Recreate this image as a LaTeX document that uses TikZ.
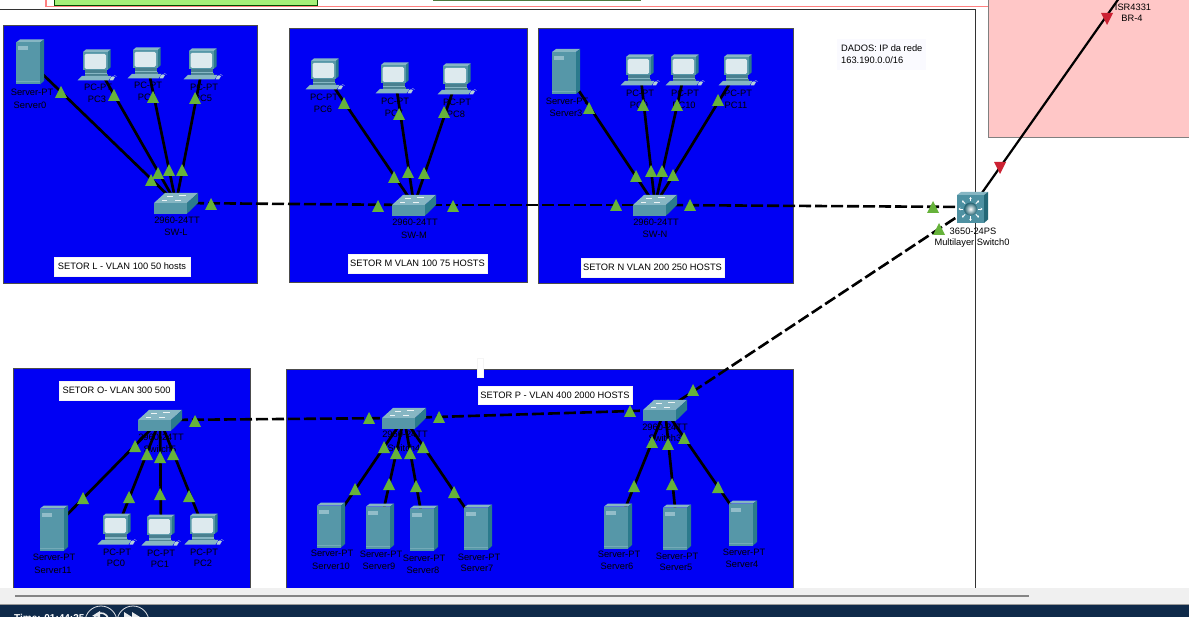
\documentclass[tikz,border=0pt]{standalone}
\usepackage{fontspec}
\setmainfont{Liberation Sans}
\usetikzlibrary{arrows.meta}
\definecolor{panelblue}{HTML}{0000F4}
\definecolor{tri}{HTML}{66B23A}
\definecolor{trired}{HTML}{CC2233}
\definecolor{tfront}{HTML}{5697A8}
\definecolor{ttop}{HTML}{86B6C3}
\definecolor{tside}{HTML}{2B7A8C}
\definecolor{navy}{HTML}{0F2A4A}
\definecolor{lime}{HTML}{A4F078}
\definecolor{darkgreen}{HTML}{4F7A3F}
\tikzset{
  panel/.style={fill=panelblue,draw=black!70,line width=0.7pt},
  devpt/.style={inner sep=0pt,minimum size=1pt},
  lnk/.style={draw=black,line width=2.7pt},
  dlnk/.style={draw=black,line width=2.6pt,dash pattern=on 12pt off 4pt},
  uplink/.style={draw=black,line width=2.2pt},
  devtext/.style={font=\fontsize{9.3}{10}\selectfont,text=black,inner sep=0pt,anchor=center},
  notebox/.style={fill=white,draw=black!4,line width=0.5pt,inner sep=0pt,font=\fontsize{9.3}{10}\selectfont,text=black},
  pics/gt/.style={code={\fill[tri] (-6,6) -- (6,6) -- (0,-6) -- cycle;}},
  pics/rt/.style={code={\fill[trired] (-6,-6) -- (6,-6) -- (0,6) -- cycle;}},
  pics/server/.style={code={
    \fill[ttop] (-14,-19.5) -- (-10,-22.5) -- (14,-22.5) -- (10,-19.5) -- cycle;
    \fill[tside] (10,-19.5) -- (14,-22.5) -- (14,19) -- (10,22.5) -- cycle;
    \fill[tfront] (-14,-19.5) rectangle (10,22.5);
    \fill[ttop!90!white] (-12,-15.5) rectangle (-2,-11.5);
    \fill[ttop!60!tfront] (-14,19.5) rectangle (10,20.3);
  }},
  pics/pc/.style={code={
    \fill[tside] (10.5,-13) -- (13.5,-15.5) -- (13.5,2.5) -- (10.5,5) -- cycle;
    \fill[ttop] (-14,-13) -- (-11,-15.5) -- (13.5,-15.5) -- (10.5,-13) -- cycle;
    \fill[tfront] (-14,-13) rectangle (10.5,5);
    \fill[white!80!tfront,rounded corners=1.5pt] (-12.5,-11) rectangle (9,4);
    \fill[tfront!85!black] (-12,5) rectangle (10,8);
    \fill[ttop] (-12,8) rectangle (10,9.5);
    \fill[tfront!85!black] (-12,9.5) rectangle (11,10.8);
    \fill[ttop] (-15,10.8) -- (14.5,10.8) -- (11.5,15.5) -- (-19.5,15.5) -- cycle;
    \fill[white!55!tfront] (14,12) -- (18,12) -- (16,15.5) -- (12.5,15.5) -- cycle;
    \draw[white!60!tfront,line width=0.4pt] (15,12) .. controls (17,10) and (19,10.5) .. (19.5,11.5);
  }},
  pics/sw/.style={code={
    \fill[ttop] (-22,0) -- (-11,-10) -- (22,-10) -- (11,0) -- cycle;
    \fill[tside] (11,0) -- (22,-10) -- (22,0) -- (11,10.7) -- cycle;
    \fill[tfront] (-22,0) rectangle (11,10.7);
    \draw[white!85!ttop,line width=0.7pt] (-9,-7) -- (-3,-7) (3,-7.5) -- (10,-7.5) (-14,-2.5) -- (-9,-2.5) (-1,-2.5) -- (5,-2.5);
  }},
  pics/mls/.style={code={
    \fill[ttop] (-15,-12) -- (-11,-15) -- (16,-15) -- (12,-12) -- cycle;
    \fill[tside!85!black] (12,-12) -- (16,-15) -- (16,12.5) -- (12,16) -- cycle;
    \fill[tfront!80!tside] (-15,-12) rectangle (12,16);
    \foreach \a in {0,45,...,315}{
      \draw[white,line width=0.8pt,-{Stealth[length=2pt,width=2.5pt]}] (-1.5,2) ++(\a:7.5) -- ++(\a:4.5);
    }
    \shade[inner color=white,outer color=tside!80!black] (-1.5,2) circle (6.5);
  }},
}
\newcommand{\twolab}[7]{%
  \node[devtext] (#1a) at (#2,#3) {#4};%
  \node[devtext] (#1b) at (#5,#6) {#7};%
}
\begin{document}
\begin{tikzpicture}[x=1pt,y=-1pt]
\useasboundingbox (0,0) rectangle (1189,617);
\begin{scope}
\clip (0,0) rectangle (1189,617);
\fill[white] (0,0) rectangle (1189,617);
% upper window remains
\draw[draw=red!50,line width=1.3pt] (46,-2) -- (46,6.5) -- (989,6.5);
\fill[lime,draw=black!70!green,line width=0.8pt] (54,-3) rectangle (317,5.5);
\fill[lime,draw=darkgreen,line width=1pt] (433,-3) rectangle (640,0.8);
\draw[black!80,line width=1pt] (0,10) -- (975.5,10) -- (975.5,590);
\fill[red!22,draw=black!50,line width=0.8pt] (988,-3) rectangle (1192,137.5);
% panels
\node[panel,minimum width=254pt,minimum height=258pt,inner sep=0pt,anchor=north west] (panelL) at (3,25) {};
\node[panel,minimum width=238pt,minimum height=254pt,inner sep=0pt,anchor=north west] (panelM) at (289,28) {};
\node[panel,minimum width=255pt,minimum height=255pt,inner sep=0pt,anchor=north west] (panelN) at (538,28) {};
\node[panel,minimum width=237pt,minimum height=222pt,inner sep=0pt,anchor=north west] (panelO) at (12.5,368) {};
\node[panel,minimum width=507pt,minimum height=221pt,inner sep=0pt,anchor=north west] (panelP) at (286,369) {};
% device anchors
\foreach \n/\x/\y in {
  srvA/30/62, pcC/97/65, pcD/147/63, pcE/203/64, swL/176/203,
  pcF/325/74, pcG/395/78, pcH/457/79, swM/414/205,
  srvD/566/71.5, pcI/640/70, pcJ/685/70, pcK/738/70, swN/655/205,
  mls/972/207, brD/1122/-6,
  swE/160/420, srvL/54/528, pcA/117/529, pcB/161/530, pcCc/204/529,
  swF/404/418, srvK/331/525, srvJ/380/526, srvI/424/528, srvH/478/527,
  swG/665/410, srvG/618/526, srvF/677/527, srvE/743/523}
  {\node[devpt] (\n) at (\x,\y) {};}
% connectors
\foreach \a/\b in {srvA/swL,pcC/swL,pcD/swL,pcE/swL,pcF/swM,pcG/swM,pcH/swM,
  srvD/swN,pcI/swN,pcJ/swN,pcK/swN,srvL/swE,pcA/swE,pcB/swE,pcCc/swE,
  srvK/swF,srvJ/swF,srvI/swF,srvH/swF,srvG/swG,srvF/swG,srvE/swG}
  {\draw[lnk] (\a.center) -- (\b.center);}
\foreach \a/\b in {swL/swM,swM/swN,swN/mls,swE/swF,swF/swG,swG/mls}
  {\draw[dlnk] (\a.center) -- (\b.center);}
\draw[uplink] (mls.center) -- (brD.center);
% icons
\foreach \n in {srvA,srvD,srvL,srvK,srvJ,srvI,srvH,srvG,srvF,srvE}
  {\pic at (\n) {server};}
\foreach \n in {pcC,pcD,pcE,pcF,pcG,pcH,pcI,pcJ,pcK,pcA,pcB,pcCc}
  {\pic at (\n) {pc};}
\foreach \n in {swL,swM,swN,swE,swF,swG}
  {\pic at (\n) {sw};}
\pic at (mls) {mls};
% device labels
\twolab{a}{32}{92}{Server-PT}{30}{105}{Server0}
\twolab{b}{98}{87}{PC-PT}{97}{99}{PC3}
\twolab{c}{148}{85}{PC-PT}{147}{97}{PC4}
\twolab{d}{204}{87}{PC-PT}{203}{98}{PC5}
\twolab{e}{177}{220}{2960-24TT}{176}{232}{SW-L}
\twolab{f}{324}{97}{PC-PT}{323}{109}{PC6}
\twolab{g}{395}{101}{PC-PT}{394}{113}{PC7}
\twolab{h}{457}{102}{PC-PT}{456}{114}{PC8}
\twolab{i}{415}{222}{2960-24TT}{414}{235}{SW-M}
\twolab{j}{567}{101}{Server-PT}{566}{113}{Server3}
\twolab{k}{640}{93}{PC-PT}{639}{105}{PC9}
\twolab{l}{685}{93}{PC-PT}{684}{105}{PC10}
\twolab{m}{738}{93}{PC-PT}{736}{105}{PC11}
\twolab{n}{656}{222}{2960-24TT}{655}{234}{SW-N}
\twolab{o}{973}{231}{3650-24PS}{972}{243}{Multilayer Switch0}
\twolab{p}{1133}{7}{ISR4331}{1132}{18}{BR-4}
\twolab{q}{161}{437}{2960-24TT}{160}{449}{Switch5}
\twolab{r}{54}{557}{Server-PT}{53}{570}{Server11}
\twolab{s}{117}{552}{PC-PT}{116}{563}{PC0}
\twolab{t}{161}{553}{PC-PT}{160}{564}{PC1}
\twolab{u}{204}{552}{PC-PT}{203}{563}{PC2}
\twolab{v}{405}{434}{2960-24TT}{404}{448}{Switch4}
\twolab{w}{332}{553}{Server-PT}{331}{566}{Server10}
\twolab{x}{381}{554}{Server-PT}{379}{566}{Server9}
\twolab{y}{424}{558}{Server-PT}{423}{570}{Server8}
\twolab{z}{479}{557}{Server-PT}{477}{568}{Server7}
\twolab{aa}{665}{427}{2960-24TT}{665}{438}{Switch3}
\twolab{ab}{619}{554}{Server-PT}{617}{566}{Server6}
\twolab{ac}{677}{556}{Server-PT}{676}{567}{Server5}
\twolab{ad}{744}{552}{Server-PT}{742}{564}{Server4}
% link state triangles
\foreach \x/\y in {
  61/92,114/95,153/97,195/98,151/180,158/173,169/170,182/170,211/204,
  344/103,399/114,444/112,394/177,408/172,424/173,378/206,453/206,
  589/108,643/105,677/105,718/100,636/176,651/171,662/171,673/175,616/205,690/205,
  933/207,939/229,
  135/446,83/498,147/454,160/457,173/454,129/497,160/494,189/496,195/421,
  369/418,439/417,384/447,396/453,410/453,423/447,355/489,389/484,416/486,454/492,
  630/411,693/390,652/442,668/444,684/438,634/486,672/484,718/487}
  {\pic at (\x,\y) {gt};}
\foreach \x/\y in {1000/168,1107/19}
  {\pic at (\x,\y) {rt};}
% note boxes
\node[notebox,minimum width=136pt,minimum height=19pt] (noteL) at (122,266.5) {SETOR L - VLAN 100 50 hosts};
\node[notebox,minimum width=139pt,minimum height=19pt] (noteM) at (417.5,263.5) {SETOR M VLAN 100 75 HOSTS};
\node[notebox,minimum width=143pt,minimum height=19pt] (noteN) at (652.5,267.5) {SETOR N VLAN 200 250 HOSTS};
\node[notebox,minimum width=115pt,minimum height=19pt] (noteO) at (116.5,390.5) {SETOR O- VLAN 300 500};
\node[notebox,minimum width=154pt,minimum height=18pt] (noteP) at (555,395) {SETOR P - VLAN 400 2000 HOSTS};
\node[notebox,minimum width=6pt,minimum height=19pt] (noteQ) at (480,367.5) {};
\node[fill=blue!2!white,inner sep=0pt,minimum width=89pt,minimum height=31pt] (noteD) at (881.5,54.5) {};
\node[inner sep=0pt,anchor=west,align=left,font=\fontsize{9.3}{12}\selectfont] (noteDt) at (841,54.5) {DADOS: IP da rede\\163.190.0.0/16};
% bottom bars
\fill[black!6] (0,587.5) rectangle (1189,605);
\draw[black!48,line width=2pt] (15,595.5) -- (1029,595.5);
\fill[navy] (0,604.5) rectangle (1189,617);
\draw[black!40,line width=0.6pt] (0,604) -- (1189,604);
\node[text=white,inner sep=0pt,anchor=north west,font=\bfseries\fontsize{10}{11}\selectfont] (timer) at (14,614.5) {Time: 01:44:35};
\node[circle,draw=white!85!navy,fill=navy,line width=0.8pt,minimum size=32pt,inner sep=0pt] (btnA) at (101,622) {};
\node[circle,draw=white!85!navy,fill=navy,line width=0.8pt,minimum size=32pt,inner sep=0pt] (btnB) at (133,622) {};
\draw[white!90!navy,line width=1.6pt] (94,618) arc[start angle=200,end angle=340,radius=7.5];
\fill[white!90!navy] (92,616) -- (100,611) -- (100,617) -- cycle;
\fill[white!90!navy] (124,612) -- (132,617) -- (124,617) -- cycle;
\fill[white!90!navy] (132,612) -- (140,617) -- (132,617) -- cycle;
\end{scope}
\end{tikzpicture}
\end{document}
